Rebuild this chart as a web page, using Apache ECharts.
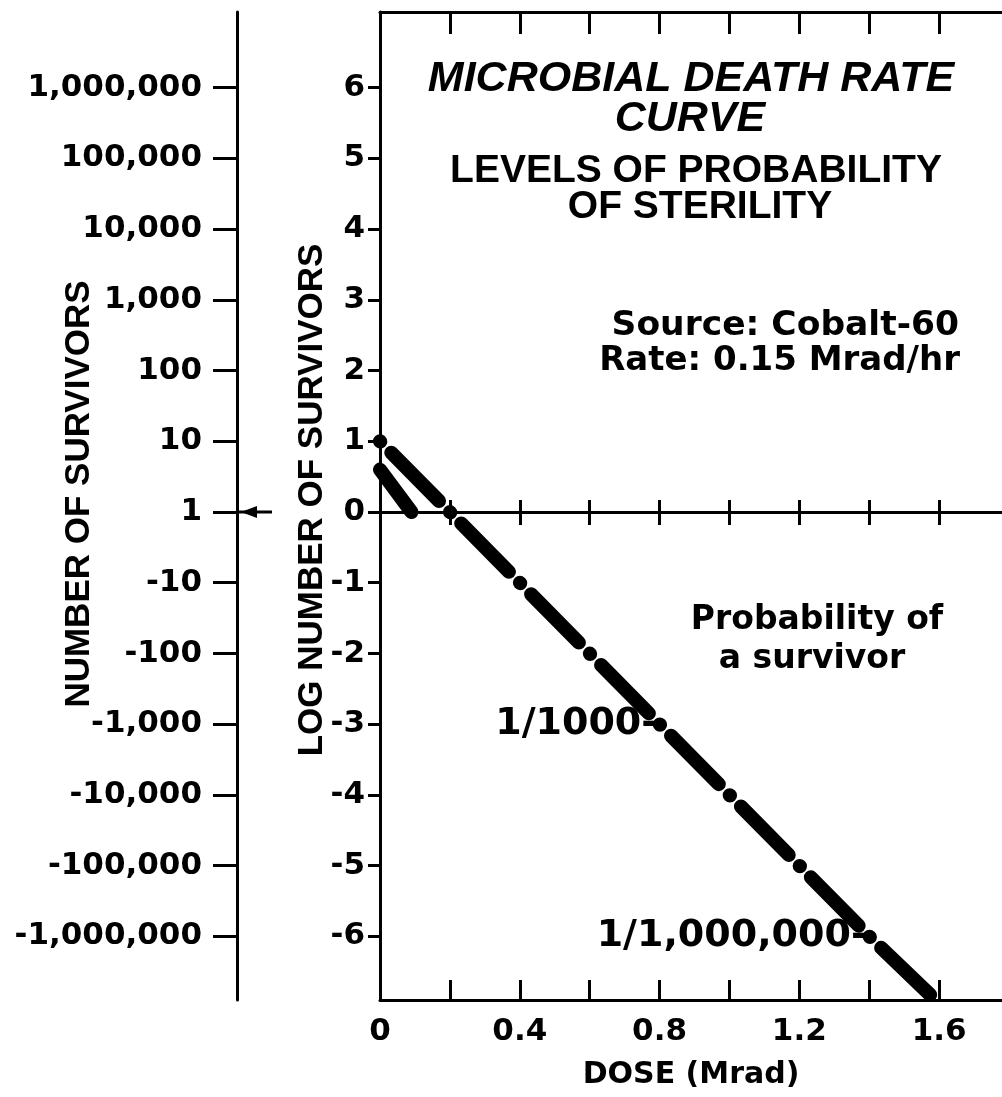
<!DOCTYPE html>
<html>
<head>
<meta charset="utf-8">
<script src="https://cdn.jsdelivr.net/npm/echarts@6/dist/echarts.min.js"></script>
<style>
  html, body { margin: 0; padding: 0; background: #fff; }
  #chart { width: 1002px; height: 1097px; }
</style>
</head>
<body>
<div id="chart"></div>
<script>
// Microbial death-rate curve: log survivors against dose (Co-60 source)
const logTicks = [6, 5, 4, 3, 2, 1, 0, -1, -2, -3, -4, -5, -6];
const survivorLabels = ['1,000,000', '100,000', '10,000', '1,000', '100', '10', '1',
  '-10', '-100', '-1,000', '-10,000', '-100,000', '-1,000,000'];
const doseTicks = [0.2, 0.4, 0.6, 0.8, 1.0, 1.2, 1.4, 1.6];
const doseLabels = [0, 0.4, 0.8, 1.2, 1.6];

// main straight-line kill curve
const curveDose = [0, 0.2, 0.8, 1.4, 1.59];
const curveLog = [1, 0, -3, -6, -6.9];
// short initial segment near the origin
const shoulderDose = [0, 0.09];
const shoulderLog = [0.6, 0];
// sterility probability levels marked on the curve
const levelDose = [0.8, 1.4];
const levelLog = [-3, -6];
const levelNames = ['1/1000-', '1/1,000,000-'];

const Y_MIN = -6.9, Y_MAX = 7.07;
const X_MIN = 0, X_MAX = 1.78;
const ROUND = '"DejaVu Sans"';
const HELV = '"Liberation Sans"';
const INK = '#000';

const zip = (a, b) => a.map((v, i) => [v, b[i]]);

const chart = echarts.init(document.getElementById('chart'), null, { renderer: 'canvas' });

const baseLine = { show: true, onZero: false, lineStyle: { color: INK, width: 3 } };
const tickStyle = { color: INK, width: 3 };

const option = {
  animation: false,
  backgroundColor: '#fff',
  grid: { left: 380, right: 0, top: 12, bottom: 97, containLabel: false, outerBoundsMode: 'none' },
  xAxis: [
    { // bottom frame with dose labels
      type: 'value', position: 'bottom', min: X_MIN, max: X_MAX,
      axisLine: baseLine,
      axisTick: { show: true, inside: true, length: 20, customValues: doseTicks, lineStyle: tickStyle },
      axisLabel: { show: true, customValues: doseLabels, margin: 16,
        color: INK, fontFamily: ROUND, fontWeight: 'bold', fontSize: 31,
        formatter: v => (v === 0 ? '0' : v.toFixed(1)) },
      splitLine: { show: false },
      name: 'DOSE (Mrad)', nameLocation: 'middle', nameGap: 60, nameMoveOverlap: false,
      nameTextStyle: { color: INK, fontFamily: ROUND, fontWeight: 'bold', fontSize: 30 }
    },
    { // top frame
      type: 'value', position: 'top', min: X_MIN, max: X_MAX,
      axisLine: baseLine,
      axisTick: { show: true, inside: true, length: 22, customValues: doseTicks, lineStyle: tickStyle },
      axisLabel: { show: false }, splitLine: { show: false }
    },
    { // zero line, ticks below
      type: 'value', position: 'bottom', min: X_MIN, max: X_MAX,
      axisLine: { show: true, onZero: true, onZeroAxisIndex: 0, lineStyle: { color: INK, width: 3 } },
      axisTick: { show: true, inside: false, length: 13, customValues: doseTicks, lineStyle: tickStyle },
      axisLabel: { show: false }, splitLine: { show: false }
    },
    { // zero line, ticks above
      type: 'value', position: 'top', min: X_MIN, max: X_MAX,
      axisLine: { show: true, onZero: true, onZeroAxisIndex: 0, lineStyle: { color: INK, width: 3 } },
      axisTick: { show: true, inside: false, length: 12, customValues: doseTicks, lineStyle: tickStyle },
      axisLabel: { show: false }, splitLine: { show: false }
    }
  ],
  yAxis: [
    { // log number of survivors
      type: 'value', position: 'left', min: Y_MIN, max: Y_MAX,
      axisLine: baseLine,
      axisTick: { show: true, length: 12, customValues: logTicks, lineStyle: tickStyle },
      axisLabel: { show: true, customValues: logTicks, margin: 15,
        color: INK, fontFamily: ROUND, fontWeight: 'bold', fontSize: 31 },
      splitLine: { show: false },
      name: 'LOG NUMBER OF SURVIVORS', nameLocation: 'middle', nameGap: 50, nameRotate: 90,
      nameMoveOverlap: false,
      nameTextStyle: { color: INK, fontFamily: HELV, fontWeight: 'bold', fontSize: 35,
        padding: [0, 0, 0, 12] }
    },
    { // number of survivors
      type: 'value', position: 'left', offset: 143, min: Y_MIN, max: Y_MAX,
      axisLine: baseLine,
      axisTick: { show: true, length: 24, customValues: logTicks, lineStyle: tickStyle },
      axisLabel: { show: true, customValues: logTicks, margin: 35,
        color: INK, fontFamily: ROUND, fontWeight: 'bold', fontSize: 31,
        formatter: v => survivorLabels[logTicks.indexOf(Math.round(v))] },
      splitLine: { show: false },
      name: 'NUMBER OF SURVIVORS', nameLocation: 'middle', nameGap: 140, nameRotate: 90,
      nameMoveOverlap: false,
      nameTextStyle: { color: INK, fontFamily: HELV, fontWeight: 'bold', fontSize: 35,
        padding: [0, 0, 0, 24] }
    }
  ],
  series: [
    {
      name: 'death rate', type: 'line', xAxisIndex: 0, yAxisIndex: 0,
      data: zip(curveDose, curveLog), showSymbol: false, clip: false,
      lineStyle: { color: INK, width: 14, type: [68, 15.5, 0.5, 15.5], cap: 'round', dashOffset: 83.5 },
      z: 5
    },
    {
      name: 'initial', type: 'line', xAxisIndex: 0, yAxisIndex: 0,
      data: zip(shoulderDose, shoulderLog), showSymbol: false, clip: false,
      lineStyle: { color: INK, width: 14, cap: 'round' }, z: 5
    },
    {
      name: 'levels', type: 'scatter', xAxisIndex: 0, yAxisIndex: 0,
      data: zip(levelDose, levelLog).map((p, i) => ({ value: p, name: levelNames[i] })),
      symbolSize: 1, itemStyle: { color: 'rgba(0,0,0,0)', opacity: 1 },
      label: { show: true, position: 'left', distance: 2, formatter: p => p.name,
        color: INK, fontFamily: ROUND, fontWeight: 'bold', fontSize: 38 },
      z: 6
    }
  ]
};

chart.setOption(option);

// annotation texts and the arrow on the survivor scale
const zeroY = chart.convertToPixel({ yAxisIndex: 0 }, 0);
const leftAxisX = chart.convertToPixel({ xAxisIndex: 0 }, 0) - 143;
const txt = (text, x, y, font, align) => ({
  type: 'text', x, y, z: 10,
  style: { text, font, fill: INK, align: align || 'center', verticalAlign: 'middle' }
});
chart.setOption({
  graphic: [
    txt('MICROBIAL DEATH RATE', 691, 79, 'italic bold 43px ' + HELV),
    txt('CURVE', 690, 119, 'italic bold 43px ' + HELV),
    txt('LEVELS OF PROBABILITY', 696, 171, 'bold 39px ' + HELV),
    txt('OF STERILITY', 700, 207, 'bold 39px ' + HELV),
    txt('Source: Cobalt-60', 959, 326, 'bold 34.5px ' + ROUND, 'right'),
    txt('Rate: 0.15 Mrad/hr', 960, 361, 'bold 34px ' + ROUND, 'right'),
    txt('Probability of', 817, 620, 'bold 33px ' + ROUND),
    txt('a survivor', 812, 659, 'bold 33px ' + ROUND),
    {
      type: 'line', z: 10,
      shape: { x1: leftAxisX, y1: zeroY, x2: leftAxisX + 35, y2: zeroY },
      style: { stroke: INK, lineWidth: 3 }
    },
    {
      type: 'polygon', z: 10,
      shape: { points: [[leftAxisX + 4, zeroY], [leftAxisX + 20, zeroY - 6], [leftAxisX + 20, zeroY + 6]] },
      style: { fill: INK }
    }
  ]
});
</script>
</body>
</html>
